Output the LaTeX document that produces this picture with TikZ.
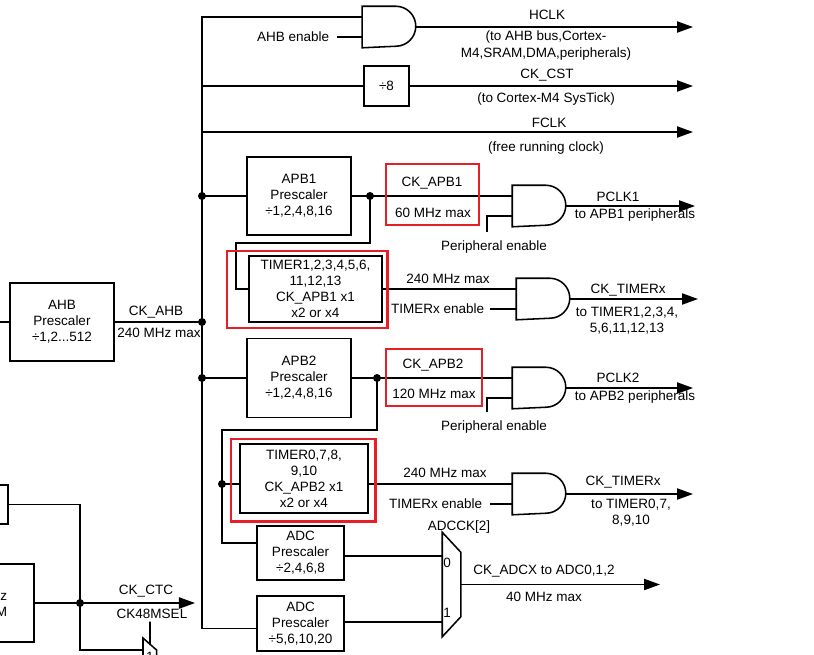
\documentclass[tikz,border=0pt]{standalone}
\usepackage{fontspec}
\setsansfont{Liberation Sans}
\usetikzlibrary{arrows.meta}
\definecolor{boxred}{RGB}{232,30,38}
\tikzset{
	node_lbl/.style = {
		align=center,
		inner sep=0pt,
		font=\sffamily\fontsize{9.6}{11.4}\selectfont
	},
	node_box/.style = {
		node_lbl,
		rectangle,
		draw=black
	},
	node_red/.style = {
		rectangle,
		draw=boxred,
		line width=2.1pt,
		inner sep=0pt
	},
	node_gate/.style = {
		rectangle,
		inner sep=0pt,
		minimum width=1.3cm,
		minimum height=1cm
	},
	node_mux/.style = {
		rectangle,
		inner sep=0pt,
		minimum width=0.425cm,
		minimum height=2.575cm
	},
	node_dot/.style = {
		circle,
		fill=black,
		inner sep=0pt,
		minimum size=0.2cm
	},
	sig/.style = {-{Triangle[length=0.4cm,width=0.28cm]}}
}
\begin{document}
\begin{tikzpicture}[x=0.025cm, y=-0.025cm, line width=1.1pt]
\useasboundingbox (0,0) rectangle (814,654);

% prescalers and timer blocks
\node [node_box, minimum width=2.6cm, minimum height=1.95cm] (ahbpre) at (62,322) {AHB\\Prescaler\\÷1,2...512};
\node [node_box, minimum width=1.125cm, minimum height=1cm] (div8) at (386.5,86) {÷8};
\node [node_box, minimum width=2.6cm, minimum height=1.95cm] (apb1pre) at (299,196) {APB1\\Prescaler\\÷1,2,4,8,16};
\node [node_box, minimum width=3.325cm, minimum height=1.65cm] (tim1) at (315.5,289) {TIMER1,2,3,4,5,6,\\11,12,13\\CK\_APB1 x1\\x2 or x4};
\node [node_box, minimum width=2.6cm, minimum height=1.975cm] (apb2pre) at (299,378) {APB2\\Prescaler\\÷1,2,4,8,16};
\node [node_box, minimum width=3.2cm, minimum height=1.725cm] (tim0) at (304,478.5) {TIMER0,7,8,\\9,10\\CK\_APB2 x1\\x2 or x4};
\node [node_box, minimum width=2.175cm, minimum height=1.35cm] (adc1) at (300.5,553) {ADC\\Prescaler\\÷2,4,6,8};
\node [node_box, minimum width=2.175cm, minimum height=1.375cm] (adc2) at (300.5,623.5) {ADC\\Prescaler\\÷5,6,10,20};
\node [node_box, minimum width=1.7cm, minimum height=0.975cm] (lbox1) at (-26,504.5) {};
\node [node_box, minimum width=2.35cm, minimum height=1.95cm] (lbox2) at (-13,603) {};
\node [node_lbl, align=right, anchor=east] (lbox2txt) at (8,605) {z\\M};

% gates
\node [node_gate] (ghclk) at (389,27) {};
\node [node_gate] (gpclk1) at (539,206) {};
\node [node_gate] (gtim1) at (543,299) {};
\node [node_gate] (gpclk2) at (539,388) {};
\node [node_gate] (gtim0) at (539,494) {};
\foreach \g in {ghclk,gpclk1,gtim1,gpclk2,gtim0} {
	\draw (\g.north west) -- ([xshift=-0.5cm]\g.north east) arc[start angle=90, end angle=-90, radius=0.5cm] -- (\g.south west) -- cycle;
	\coordinate (\g-a) at ([yshift=0.25cm]\g.west);
	\coordinate (\g-b) at ([yshift=-0.25cm]\g.west);
}

% selectors
\node [node_mux] (mux) at (451.5,584.5) {};
\draw (mux.north west) -- ([yshift=-0.5cm]mux.north east) -- ([yshift=0.5cm]mux.south east) -- (mux.south west) -- cycle;
\node [rectangle, inner sep=0pt, minimum width=0.3cm, minimum height=1cm, anchor=north west] (smux) at (143,638) {};
\draw (smux.south west) -- (smux.north west) -- ([yshift=-0.3cm]smux.north east) -- (smux.south east);

% labels
\node [node_lbl] (hclk) at (547,15) {HCLK};
\node [node_lbl] (hclkto) at (546,45.5) {(to AHB bus,Cortex-\\M4,SRAM,DMA,peripherals)};
\node [node_lbl] (ckcst) at (547,75) {CK\_CST};
\node [node_lbl] (ckcstto) at (546,99) {(to Cortex-M4 SysTick)};
\node [node_lbl] (fclk) at (549,123) {FCLK};
\node [node_lbl] (fclkto) at (546,148) {(free running clock)};
\node [node_lbl, anchor=east] (ahben) at (330,37) {AHB enable};
\node [node_lbl] (ckahb) at (156,312) {CK\_AHB};
\node [node_lbl] (ahbmax) at (159,333) {240 MHz max};
\node [node_lbl] (ckapb1) at (432,183) {CK\_APB1};
\node [node_lbl] (apb1max) at (433,213) {60 MHz max};
\node [node_lbl] (pclk1) at (618,197) {PCLK1};
\node [node_lbl] (pclk1to) at (635,215) {to APB1 peripherals};
\node [node_lbl] (pen1) at (494,247) {Peripheral enable};
\node [node_lbl] (tim1max) at (448,279) {240 MHz max};
\node [node_lbl, anchor=east] (ten1) at (485,309) {TIMERx enable};
\node [node_lbl] (cktim1) at (628,290) {CK\_TIMERx};
\node [node_lbl] (cktim1to) at (627,321) {to TIMER1,2,3,4,\\5,6,11,12,13};
\node [node_lbl] (ckapb2) at (433,365) {CK\_APB2};
\node [node_lbl] (apb2max) at (434,394) {120 MHz max};
\node [node_lbl] (pclk2) at (618,378) {PCLK2};
\node [node_lbl] (pclk2to) at (635,397) {to APB2 peripherals};
\node [node_lbl] (pen2) at (494,427) {Peripheral enable};
\node [node_lbl] (tim0max) at (445,473) {240 MHz max};
\node [node_lbl, anchor=east] (ten0) at (483,504) {TIMERx enable};
\node [node_lbl] (cktim0) at (623,482) {CK\_TIMERx};
\node [node_lbl] (cktim0to) at (631,513) {to TIMER0,7,\\8,9,10};
\node [node_lbl] (adcck) at (459,527) {ADCCK[2]};
\node [node_lbl] (mux0) at (447,563) {0};
\node [node_lbl] (mux1) at (447,613) {1};
\node [node_lbl] (ckadc) at (544,571) {CK\_ADCX to ADC0,1,2};
\node [node_lbl] (adcmax) at (544,597) {40 MHz max};
\node [node_lbl] (ckctc) at (146,591) {CK\_CTC};
\node [node_lbl] (cksel) at (152,614) {CK48MSEL};
\node [node_lbl] (smux1) at (150,657) {1};
\node [node_lbl] (ck48m) at (420,661) {CK48M};

% junctions
\node [node_dot] (jahb) at (202,322) {};
\node [node_dot] (japb1) at (202,196) {};
\node [node_dot] (japb2) at (202,378) {};
\node [node_dot] (jck1) at (370,196) {};
\node [node_dot] (jck2) at (377,378) {};
\node [node_dot] (jtim0) at (222,484) {};
\node [node_dot] (jctc) at (80,603) {};

% free ends
\coordinate (hclkend) at (693,27);
\coordinate (cstend) at (693,86);
\coordinate (fclkend) at (693,132);
\coordinate (pclk1end) at (695,206);
\coordinate (tim1end) at (698,299);
\coordinate (pclk2end) at (693,388);
\coordinate (tim0end) at (693,494);
\coordinate (adcend) at (660,584.5);
\coordinate (ctcend) at (195,603);
\coordinate (ahbin) at (-5,322);

% AHB bus
\draw (ghclk-a) -| (jahb.center) |- ([yshift=-0.125cm]adc2.west);
\draw (ahbin) -- (ahbpre.west);
\draw (ahbpre.east) -- (jahb.center);
\draw ([xshift=0.175cm]ahben.east) -- (ghclk-b);
\draw [sig] (ghclk.east) -- (hclkend);
\draw (div8.west -| jahb.center) -- (div8.west);
\draw [sig] (div8.east) -- (cstend);
\draw [sig] (fclkend -| jahb.center) -- (fclkend);

% APB1
\draw (japb1.center) -- (apb1pre.west);
\draw (apb1pre.east) -- (gpclk1-a);
\draw (gpclk1-b) -| ([xshift=-0.175cm,yshift=0.2cm]pen1.north);
\draw [sig] (gpclk1.east) -- (pclk1end);
\draw (jck1.center) -- ++(0,47) -| ([xshift=-0.3cm]tim1.west) -- (tim1.west);
\draw (tim1.east) -- (gtim1-a);
\draw ([xshift=0.125cm]ten1.east) -- (gtim1-b);
\draw [sig] (gtim1.east) -- (tim1end);

% APB2
\draw (japb2.center) -- (apb2pre.west);
\draw (apb2pre.east) -- (gpclk2-a);
\draw (gpclk2-b) -| ([xshift=-0.175cm,yshift=0.2cm]pen2.north);
\draw [sig] (gpclk2.east) -- (pclk2end);
\draw (jck2.center) -- ++(0,52) -| (jtim0.center) |- ([yshift=0.25cm]adc1.west);
\draw (jtim0.center) -- (tim0.west |- jtim0.center);
\draw (tim0.east |- jtim0.center) -- (gtim0-a);
\draw ([xshift=0.175cm]ten0.east) -- (gtim0-b);
\draw [sig] (gtim0.east) -- (tim0end);

% ADC
\draw ([yshift=-0.075cm]adc1.east) -- ([yshift=-0.075cm]adc1.east -| mux.west);
\draw ([yshift=0.04cm]adc2.east) -- ([yshift=0.04cm]adc2.east -| mux.west);
\draw [sig] (mux.east) -- (adcend);

% CTC
\draw (lbox1.east) -| (jctc.center) |- ([yshift=-0.3cm]smux.north west);
\draw (lbox2.east) -- (jctc.center);
\draw [sig] (jctc.center) -- (ctcend);
\draw ([xshift=-0.05cm,yshift=-0.05cm]cksel.south) -- ([xshift=0.175cm,yshift=-0.175cm]smux.north west);

% highlights
\node [node_red, minimum width=4cm, minimum height=1.925cm] (tim1red) at (307,289.5) {};
\node [node_red, minimum width=3.6cm, minimum height=2.05cm] (tim0red) at (303,480) {};
\node [node_red, minimum width=2.325cm, minimum height=1.525cm] (apb1red) at (432.5,194.5) {};
\node [node_red, minimum width=2.4cm, minimum height=1.425cm] (apb2red) at (434,377.5) {};
\end{tikzpicture}
\end{document}
